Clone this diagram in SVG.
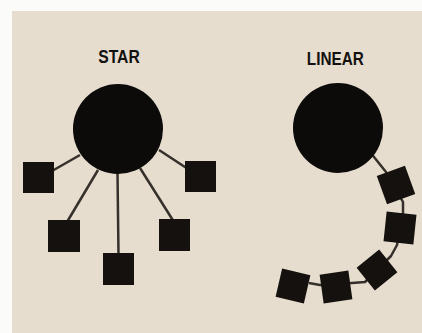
<svg xmlns="http://www.w3.org/2000/svg" width="422" height="333" viewBox="0 0 422 333">
<style>
.lbl{font-family:"Liberation Sans",Arial,sans-serif;font-weight:bold;font-size:19px;fill:#141210;text-anchor:middle}
.hub{fill:#0c0b0a}
.sq{fill:#14110f}
.ln{stroke:#35302b;stroke-width:2.5;fill:none;stroke-linejoin:round}
</style>
<rect x="0" y="0" width="422" height="333" fill="#fbfbf9"/>
<rect x="12" y="11" width="410" height="322" fill="#e6ddce"/>
<text class="lbl" x="119" y="62.7" textLength="41.5" lengthAdjust="spacingAndGlyphs">STAR</text>
<text class="lbl" x="335.3" y="64.5" textLength="57" lengthAdjust="spacingAndGlyphs">LINEAR</text>
<g id="connectors">
<line class="ln" x1="80" y1="155" x2="52" y2="171"/>
<line class="ln" x1="98" y1="170" x2="67" y2="222"/>
<line class="ln" x1="117.5" y1="173" x2="118.5" y2="255"/>
<line class="ln" x1="140" y1="168" x2="174" y2="222"/>
<line class="ln" x1="159" y1="150" x2="188" y2="169"/>
<path class="ln" d="M366,147 L386,172 L403,202 L403,213 L397,245 L391,256 L365,282 L352,283 L320,285 L309,283"/>
</g>
<g id="star-hub"><circle class="hub" cx="118" cy="129" r="45"/></g>
<g id="star-n1"><rect class="sq" x="23" y="162" width="31" height="31"/></g>
<g id="star-n2"><rect class="sq" x="48" y="220" width="32" height="32"/></g>
<g id="star-n3"><rect class="sq" x="103" y="253" width="31" height="32"/></g>
<g id="star-n4"><rect class="sq" x="159" y="219" width="31" height="32"/></g>
<g id="star-n5"><rect class="sq" x="185" y="161" width="31" height="31"/></g>
<g id="linear-hub"><circle class="hub" cx="338" cy="128" r="45"/></g>
<g id="linear-n1"><rect class="sq" x="-15" y="-15" width="30" height="30" transform="translate(396,185) rotate(-20)"/></g>
<g id="linear-n2"><rect class="sq" x="-15" y="-15" width="30" height="30" transform="translate(400,228) rotate(6)"/></g>
<g id="linear-n3"><rect class="sq" x="-14.5" y="-14.5" width="29" height="29" transform="translate(377,270) rotate(-39)"/></g>
<g id="linear-n4"><rect class="sq" x="-14.5" y="-14.5" width="29" height="29" transform="translate(336,287) rotate(-8)"/></g>
<g id="linear-n5"><rect class="sq" x="-14.5" y="-14.5" width="29" height="29" transform="translate(293,286) rotate(13)"/></g>
</svg>
